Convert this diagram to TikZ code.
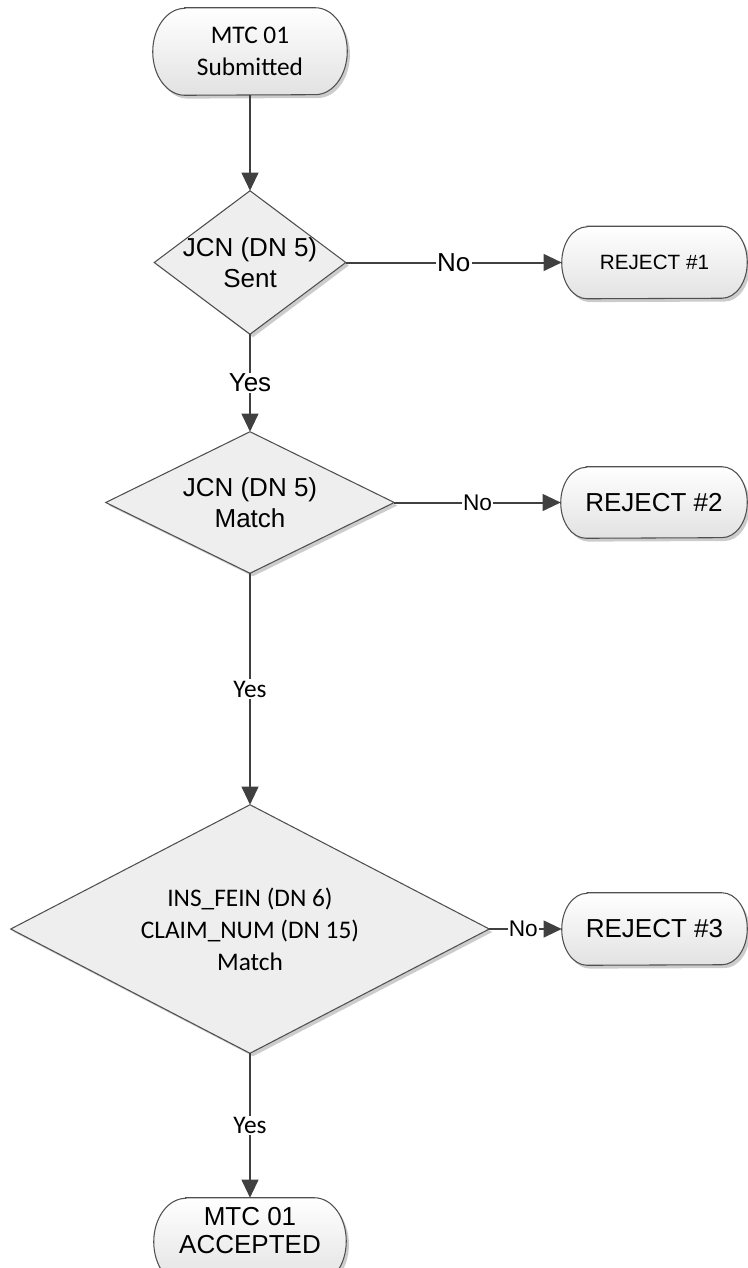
\documentclass[tikz,border=0pt]{standalone}
\usepackage{fontspec}
\setmainfont{Liberation Sans}
\newfontfamily\carl{Carlito}
\usetikzlibrary{arrows.meta,backgrounds}
\definecolor{linec}{HTML}{404040}
\definecolor{edgec}{HTML}{505050}
\definecolor{dfill}{HTML}{EEEEEE}
\definecolor{tbot}{HTML}{E2E2E2}
\definecolor{shad}{HTML}{CCCCCC}
% terminal outline: #1 node, #2 x radius, #3 y radius, #4 shift
\newcommand{\termpath}[4]{([xshift=#2,#4]#1.north west) -- ([xshift=-#2,#4]#1.north east) arc[start angle=90,end angle=-90,x radius=#2,y radius=#3] -- ([xshift=#2,#4]#1.south west) arc[start angle=270,end angle=90,x radius=#2,y radius=#3] -- cycle}
\newcommand{\diapath}[2]{([#2]#1.north) -- ([#2]#1.east) -- ([#2]#1.south) -- ([#2]#1.west) -- cycle}
\begin{document}
\begin{tikzpicture}[x=0.75pt,y=-0.75pt,
  box/.style={rectangle,draw=none,inner sep=0pt,align=center,text=black},
  conn/.style={draw=linec,line width=1.5pt,-{Triangle[length=13.5pt,width=12.5pt]}},
  lbl/.style={fill=white,inner sep=1pt,text=black},
  shadowfill/.style={fill=shad,draw=none},
  termfill/.style={top color=white,bottom color=tbot,draw=edgec,line width=0.8pt},
  diafill/.style={fill=dfill,draw=edgec,line width=0.8pt},
  arialL/.style={font=\fontsize{19.5}{23.5}\selectfont},
  arialM/.style={font=\fontsize{17}{20}\selectfont},
  arialS/.style={font=\fontsize{15.5}{19}\selectfont},
  calL/.style={font=\carl\fontsize{19}{23.5}\selectfont}]
\useasboundingbox (0,0) rectangle (747,1268);

% nodes
\node[box,calL,minimum width=145.5pt,minimum height=65.25pt] (start) at (250,51.5) {MTC 01\\Submitted};
\node[box,arialL,minimum width=143.25pt,minimum height=107.25pt] (d1) at (250,262.5) {JCN (DN 5)\\Sent};
\node[box,arialS,minimum width=138.75pt,minimum height=54pt] (r1) at (654.5,262.5) {REJECT \#1};
\node[box,arialL,minimum width=216pt,minimum height=105.75pt] (d2) at (250,502.5) {JCN (DN 5)\\Match};
\node[box,arialL,minimum width=139.5pt,minimum height=53.25pt] (r2) at (654,502.5) {REJECT \#2};
\node[box,calL,font=\carl\fontsize{19}{24}\selectfont,minimum width=358.5pt,minimum height=186pt] (d3) at (250,929) {INS\_FEIN (DN 6)\\CLAIM\_NUM (DN 15)\\Match};
\node[box,arialL,minimum width=138.75pt,minimum height=54pt] (r3) at (654.5,929) {REJECT \#3};
\node[box,minimum width=144pt,minimum height=65.25pt] (acc) at (250,1241.5) {\raisebox{6pt}[\height][\depth]{\fontsize{19.5}{22.5}\selectfont\begin{tabular}{@{}c@{}}MTC 01\\[-1pt]ACCEPTED\end{tabular}}};

% shapes
\begin{pgfonlayer}{background}
  \foreach \n/\rx/\ry in {start/24pt/32.6pt, r1/19pt/27pt, r2/19pt/26.6pt, r3/19pt/27pt, acc/24pt/32.6pt}{
    \path[shadowfill] \termpath{\n}{\rx}{\ry}{xshift=2pt,yshift=-2.5pt};
    \path[termfill] \termpath{\n}{\rx}{\ry}{xshift=0pt};
  }
  \foreach \n in {d1,d2,d3}{
    \path[shadowfill] \diapath{\n}{xshift=2.25pt,yshift=-2.25pt};
    \path[diafill] \diapath{\n}{xshift=0pt};
  }
\end{pgfonlayer}

% connectors
\draw[conn] (start.south) -- (d1.north);
\draw[conn] (d1.east) -- node[lbl,arialL]{No} (r1.west);
\draw[conn] (d1.south) -- node[lbl,arialL]{Yes} (d2.north);
\draw[conn] (d2.east) -- node[lbl,arialM]{No} (r2.west);
\draw[conn] (d2.south) -- node[lbl,calL]{Yes} (d3.north);
\draw[conn] (d3.east) -- node[lbl,arialM,pos=0.47]{No} (r3.west);
\draw[conn] (d3.south) -- node[lbl,calL]{Yes} (acc.north);
\end{tikzpicture}
\end{document}
